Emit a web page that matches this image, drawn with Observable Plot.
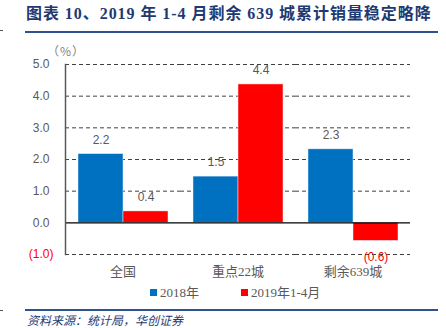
<!DOCTYPE html>
<html>
<head>
<meta charset="utf-8">
<script src="https://cdn.jsdelivr.net/npm/d3@7"></script>
<script src="https://cdn.jsdelivr.net/npm/@observablehq/plot@0.6"></script>
<style>
  body { margin: 0; background: #fff; }
  #wrap { position: relative; width: 446px; height: 328px; overflow: hidden; background: #fff; }
  #title { position: absolute; left: 26px; top: 4px; font-family: "Liberation Serif", "Noto Sans CJK SC", serif; font-weight: bold; font-size: 16px; letter-spacing: 0.95px; line-height: 20px; color: #1F3A73; white-space: nowrap; }
  .hline { position: absolute; left: 25px; width: 413px; height: 2px; background: #2E5290; }
  #unit { position: absolute; left: 47px; top: 42px; font-family: "Noto Sans CJK SC", sans-serif; font-size: 12px; letter-spacing: 1px; color: #7f7f7f; }
  #chart { position: absolute; left: 0; top: 0; }
  #legend { position: absolute; top: 284px; left: 150px; font-family: "Liberation Serif", "Noto Sans CJK SC", serif; font-size: 13px; line-height: 17px; color: #595959; white-space: nowrap; }
  #legend span.sw { display: inline-block; width: 7px; height: 7px; margin-right: 3px; vertical-align: 1px; }
  #source { position: absolute; left: 27px; top: 313px; font-family: "Noto Sans CJK SC", sans-serif; font-style: italic; font-size: 12px; line-height: 14px; color: #1F3A73; white-space: nowrap; }
  .edge { position: absolute; left: 0; width: 3px; height: 1px; background: #555; }
</style>
</head>
<body>
<div id="wrap">
  <div class="edge" style="top:30px"></div>
  <div class="edge" style="top:310px"></div>
  <div id="chart"></div>
  <div id="title">图表 10、2019 年 1-4 月剩余 639 城累计销量稳定略降</div>
  <div class="hline" style="top:31px"></div>
  <div id="unit">（%）</div>
  <div id="legend"></div>
  <div class="hline" style="top:309px"></div>
  <div id="source">资料来源：统计局，华创证券</div>
</div>
<script>
const categories = ["全国", "重点22城", "剩余639城"];
const seriesNames = ["2018年", "2019年1-4月"];
const values2018 = [2.17, 1.46, 2.32];
const values2019 = [0.36, 4.37, -0.57];
const yTicksPositive = [0, 1, 2, 3, 4, 5];
const yTicksNegative = [-1];
const gridTicks = [-1, 1, 2, 3, 4, 5];
const colors = ["#0070C0", "#FF0000"];

const data = [];
categories.forEach((c, i) => {
  data.push({cat: c, series: seriesNames[0], value: values2018[i]});
  data.push({cat: c, series: seriesNames[1], value: values2019[i]});
});

const fmt = v => v < 0 ? `(${Math.abs(v).toFixed(1)})` : v.toFixed(1);

const chart = Plot.plot({
  width: 446,
  height: 294,
  marginTop: 64,
  marginBottom: 40,
  marginLeft: 64,
  marginRight: 35,
  style: {fontFamily: "Liberation Sans, Arial, sans-serif", fontSize: "12px", color: "#595959", background: "transparent"},
  fx: {domain: categories, paddingInner: 0, paddingOuter: 0, label: null, axis: null},
  x: {domain: seriesNames, paddingInner: 0, paddingOuter: 0.257, axis: null},
  y: {domain: [-1, 5], axis: null, label: null},
  color: {domain: seriesNames, range: colors},
  marks: [
    Plot.ruleY(gridTicks, {stroke: "#404040", strokeWidth: 1, strokeDasharray: "4,3"}),
    Plot.barY(data, {fx: "cat", x: "series", y: "value", fill: "series", stroke: "#e8eef6", strokeWidth: 0.5}),
    Plot.ruleY([0], {stroke: "#000", strokeWidth: 1.2}),
    Plot.text(data.filter(d => d.value >= 0), {fx: "cat", x: "series", y: "value", text: d => fmt(d.value), dy: -14, fill: "#595959", fontSize: 12}),
    Plot.text(data.filter(d => d.value < 0), {fx: "cat", x: "series", y: "value", text: d => fmt(d.value), dy: 16, fill: "#FF0000", fontSize: 12}),
    Plot.axisY(yTicksPositive, {anchor: "left", label: null, tickSize: 0, tickPadding: 16, tickFormat: fmt, fill: "#595959", fontSize: 12, facetAnchor: "left"}),
    Plot.axisY(yTicksNegative, {anchor: "left", label: null, tickSize: 0, tickPadding: 12, tickFormat: fmt, fill: "#FF0000", fontSize: 12, facetAnchor: "left"}),
    Plot.axisFx({anchor: "bottom", tickSize: 0, tickPadding: 12, fontFamily: "Liberation Serif, Noto Sans CJK SC, serif", fontSize: 13, fill: "#595959", label: null}),
    Plot.frame({anchor: "left", stroke: "#595959", strokeWidth: 1.5, facetAnchor: "left"})
  ]
});
document.getElementById("chart").appendChild(chart);

const legend = document.getElementById("legend");
seriesNames.forEach((s, i) => {
  const item = document.createElement("span");
  item.style.marginRight = i === 0 ? "42px" : "0";
  item.innerHTML = `<span class="sw" style="background:${colors[i]}"></span>${s}`;
  legend.appendChild(item);
});
</script>
</body>
</html>
